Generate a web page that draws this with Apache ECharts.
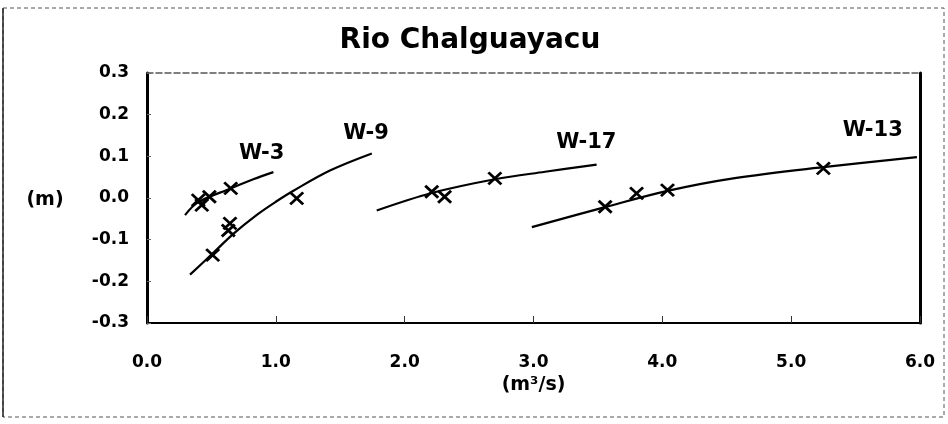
<!DOCTYPE html>
<html><head><meta charset="utf-8">
<script src="https://cdn.jsdelivr.net/npm/echarts@6/dist/echarts.min.js"></script>
<style>html,body{margin:0;padding:0;background:#fff}#c{width:948px;height:424px}</style>
</head><body><div id="c"></div>
<script>
// ---- data ----
const titleText = 'Rio Chalguayacu';
const xName = '(m³/s)';
const yName = '(m)';
const xRange = [0, 6];
const yRange = [-0.3, 0.3];

// fitted curves
const w3Curve  = [[0.295,-0.041],[0.398,-0.010],[0.650,0.023],[0.825,0.045],[0.981,0.062]];
const w9Curve  = [[0.334,-0.184],[0.50,-0.136],[0.67,-0.086],[0.85,-0.041],[1.00,-0.009],[1.14,0.018],[1.42,0.066],[1.745,0.107]];
const w17Curve = [[1.783,-0.030],[2.21,0.012],[2.70,0.045],[3.09,0.063],[3.49,0.080]];
const w13Curve = [[2.987,-0.070],[3.556,-0.022],[4.04,0.017],[4.55,0.047],[5.25,0.074],[5.976,0.098]];

// measured points (x markers)
const w3Pts  = [[0.398,-0.005],[0.425,-0.017],[0.484,0.003],[0.650,0.023]];
const w9Pts  = [[0.51,-0.137],[0.631,-0.078],[0.644,-0.061],[1.162,-0.001]];
const w17Pts = [[2.21,0.015],[2.31,0.003],[2.70,0.047]];
const w13Pts = [[3.556,-0.021],[3.80,0.011],[4.04,0.019],[5.25,0.071]];

// curve labels
const curveNames = ['W-3','W-9','W-17','W-13'];
const curveLabelPos = [[0.89,0.107],[1.70,0.154],[3.41,0.134],[5.633,0.163]];

const chart = echarts.init(document.getElementById('c'), null, {renderer:'canvas'});
const FONT = 'DejaVu Sans';
const fmt = v => Number(v).toFixed(1);

const curveSeries = [w3Curve, w9Curve, w17Curve, w13Curve].map(d => ({
  type:'line', data:d, smooth:0.35, showSymbol:false, symbol:'none',
  lineStyle:{color:'#000', width:2.2}, silent:true, z:3
}));
const ptsSeries = [w3Pts, w9Pts, w17Pts, w13Pts].map(d => ({
  type:'scatter', data:d, symbol:'path://M0,0L10,10M10,0L0,10', symbolSize:[13,12],
  itemStyle:{color:'rgba(0,0,0,0)', borderColor:'#000', borderWidth:2.8, opacity:1}, silent:true, z:4
}));
const labelSeries = {
  type:'scatter', symbolSize:0, silent:true, z:5,
  itemStyle:{opacity:1},
  data: curveNames.map((n,i)=>({name:n, value:curveLabelPos[i]})),
  label:{show:true, position:'inside', formatter:p=>p.name, color:'#000', opacity:1,
    textBorderWidth:0, fontFamily:FONT, fontWeight:'bold', fontSize:21}
};

chart.setOption({
  animation:false,
  backgroundColor:'#fff',
  grid:{left:147, right:28, top:73, bottom:101, containLabel:false, outerBoundsMode:'none'},
  xAxis:[{
    type:'value', min:xRange[0], max:xRange[1], interval:1, position:'bottom',
    splitLine:{show:false},
    axisLine:{show:true, onZero:false, lineStyle:{color:'#000', width:2}},
    axisTick:{show:true, inside:true, length:7, lineStyle:{color:'#333', width:1}},
    axisLabel:{formatter:fmt, margin:31, color:'#000', fontFamily:FONT, fontWeight:'bold', fontSize:17},
    name:xName, nameLocation:'middle', nameGap:46,
    nameTextStyle:{color:'#000', fontFamily:FONT, fontWeight:'bold', fontSize:19}
  },{
    type:'value', min:xRange[0], max:xRange[1], position:'top',
    splitLine:{show:false}, axisTick:{show:false}, axisLabel:{show:false},
    axisLine:{show:true, onZero:false, lineStyle:{color:'#555', width:1.5, type:[6,3]}}
  }],
  yAxis:[{
    type:'value', min:yRange[0], max:yRange[1], interval:0.1, position:'left',
    splitLine:{show:false},
    axisLine:{show:true, onZero:false, lineStyle:{color:'#000', width:3}},
    axisTick:{show:true, inside:true, length:4, lineStyle:{color:'#666', width:1}},
    axisLabel:{formatter:fmt, margin:18, color:'#000', fontFamily:FONT, fontWeight:'bold', fontSize:17}
  },{
    type:'value', min:yRange[0], max:yRange[1], position:'right',
    splitLine:{show:false}, axisTick:{show:false}, axisLabel:{show:false},
    axisLine:{show:true, onZero:false, lineStyle:{color:'#000', width:3}}
  }],
  graphic:[
    {type:'rect', shape:{x:3, y:8, width:941, height:409}, silent:true,
      style:{fill:'none', stroke:'#555', lineWidth:1, lineDash:[4,3]}},
    {type:'line', shape:{x1:3, y1:8, x2:3, y2:417}, silent:true, style:{stroke:'#222', lineWidth:1.5}},
    {type:'text', x:470, y:41, silent:true,
      style:{text:titleText, fill:'#000', font:'bold 28px "DejaVu Sans"', align:'center', verticalAlign:'middle'}},
    {type:'text', x:45, y:200, silent:true,
      style:{text:yName, fill:'#000', font:'bold 19px "DejaVu Sans"', align:'center', verticalAlign:'middle'}}
  ],
  series:[...curveSeries, ...ptsSeries, labelSeries]
});
</script></body></html>
